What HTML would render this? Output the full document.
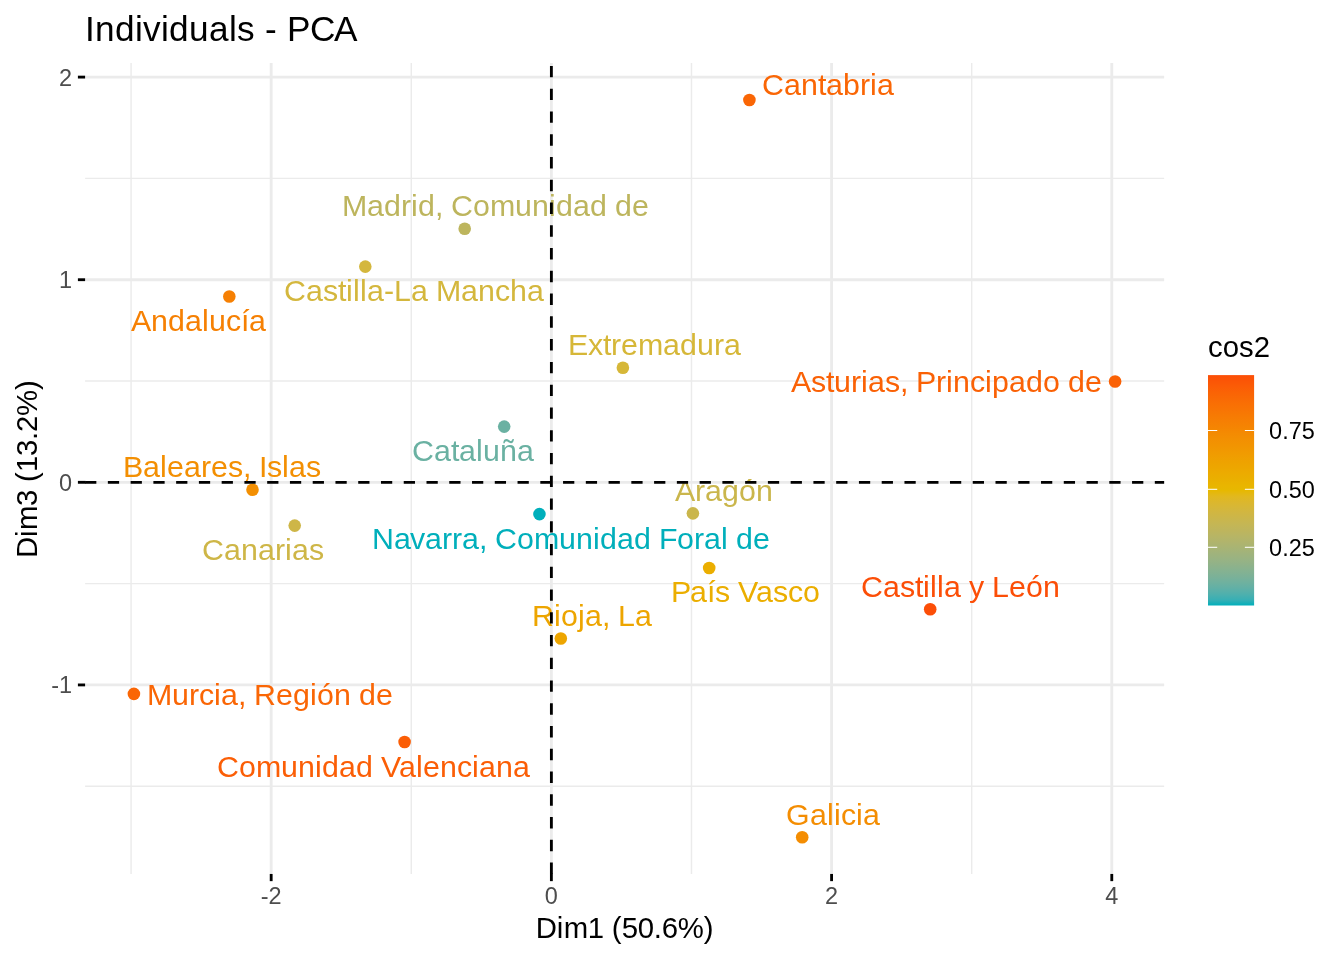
<!DOCTYPE html>
<html lang="es">
<head>
<meta charset="utf-8">
<title>Individuals - PCA</title>
<style>
html,body{margin:0;padding:0;background:#fff;}
body{width:1344px;height:960px;overflow:hidden;}
svg{display:block;}
text{font-family:"Liberation Sans",sans-serif;}
.lab{font-size:30.35px;}
.ax{font-size:23.47px;fill:#4D4D4D;}
.ttl{font-size:29.33px;fill:#000;}
.lg{font-size:23.47px;fill:#000;}
</style>
</head>
<body>
<svg width="1344" height="960" viewBox="0 0 1344 960">
<rect width="1344" height="960" fill="#fff"/>
<defs><linearGradient id="cb" x1="0" y1="1" x2="0" y2="0"><stop offset="0.0000" stop-color="#00AFBB"/><stop offset="0.0250" stop-color="#38AFB4"/><stop offset="0.0500" stop-color="#4FB0AD"/><stop offset="0.0750" stop-color="#61B0A6"/><stop offset="0.1000" stop-color="#6FB19F"/><stop offset="0.1250" stop-color="#7BB198"/><stop offset="0.1500" stop-color="#85B291"/><stop offset="0.1750" stop-color="#8FB28A"/><stop offset="0.2000" stop-color="#98B383"/><stop offset="0.2250" stop-color="#A0B37C"/><stop offset="0.2500" stop-color="#A8B474"/><stop offset="0.2750" stop-color="#B0B46D"/><stop offset="0.3000" stop-color="#B7B565"/><stop offset="0.3250" stop-color="#BEB55D"/><stop offset="0.3500" stop-color="#C4B655"/><stop offset="0.3750" stop-color="#CAB64C"/><stop offset="0.4000" stop-color="#D0B643"/><stop offset="0.4250" stop-color="#D6B738"/><stop offset="0.4500" stop-color="#DCB72C"/><stop offset="0.4750" stop-color="#E2B81D"/><stop offset="0.5000" stop-color="#E7B800"/><stop offset="0.5250" stop-color="#E9B400"/><stop offset="0.5500" stop-color="#EAAF00"/><stop offset="0.5750" stop-color="#ECAB00"/><stop offset="0.6000" stop-color="#EDA600"/><stop offset="0.6250" stop-color="#EEA200"/><stop offset="0.6500" stop-color="#F09D01"/><stop offset="0.6750" stop-color="#F19801"/><stop offset="0.7000" stop-color="#F29301"/><stop offset="0.7250" stop-color="#F38F02"/><stop offset="0.7500" stop-color="#F48A02"/><stop offset="0.7750" stop-color="#F58402"/><stop offset="0.8000" stop-color="#F67F03"/><stop offset="0.8250" stop-color="#F77A03"/><stop offset="0.8500" stop-color="#F87404"/><stop offset="0.8750" stop-color="#F96F04"/><stop offset="0.9000" stop-color="#F96905"/><stop offset="0.9250" stop-color="#FA6305"/><stop offset="0.9500" stop-color="#FB5C06"/><stop offset="0.9750" stop-color="#FB5506"/><stop offset="1.0000" stop-color="#FC4E07"/></linearGradient></defs>
<g stroke="#EBEBEB" fill="none" stroke-width="1.423">
<line x1="85.10" x2="1164.15" y1="178.40" y2="178.40"/><line x1="85.10" x2="1164.15" y1="381.01" y2="381.01"/><line x1="85.10" x2="1164.15" y1="583.62" y2="583.62"/><line x1="85.10" x2="1164.15" y1="786.24" y2="786.24"/><line x1="131.08" x2="131.08" y1="63.10" y2="873.95"/><line x1="411.28" x2="411.28" y1="63.10" y2="873.95"/><line x1="691.48" x2="691.48" y1="63.10" y2="873.95"/><line x1="971.68" x2="971.68" y1="63.10" y2="873.95"/>
</g>
<g stroke="#EBEBEB" fill="none" stroke-width="2.845">
<line x1="85.10" x2="1164.15" y1="77.10" y2="77.10"/><line x1="85.10" x2="1164.15" y1="279.71" y2="279.71"/><line x1="85.10" x2="1164.15" y1="482.32" y2="482.32"/><line x1="85.10" x2="1164.15" y1="684.93" y2="684.93"/><line x1="271.18" x2="271.18" y1="63.10" y2="873.95"/><line x1="551.38" x2="551.38" y1="63.10" y2="873.95"/><line x1="831.58" x2="831.58" y1="63.10" y2="873.95"/><line x1="1111.78" x2="1111.78" y1="63.10" y2="873.95"/>
</g>
<g>
<circle cx="749.40" cy="100.00" r="6.30" fill="#FA6605"/><circle cx="464.70" cy="228.80" r="6.30" fill="#BDB55D"/><circle cx="365.30" cy="266.60" r="6.30" fill="#D4B73D"/><circle cx="229.30" cy="296.50" r="6.30" fill="#F68003"/><circle cx="622.90" cy="367.70" r="6.30" fill="#D6B738"/><circle cx="1115.10" cy="381.50" r="6.30" fill="#FA6105"/><circle cx="504.20" cy="426.60" r="6.30" fill="#6AB1A2"/><circle cx="252.50" cy="489.80" r="6.30" fill="#F38F02"/><circle cx="294.70" cy="525.60" r="6.30" fill="#CEB647"/><circle cx="539.45" cy="514.10" r="6.30" fill="#00AFBB"/><circle cx="692.90" cy="513.35" r="6.30" fill="#CAB64C"/><circle cx="709.20" cy="568.00" r="6.30" fill="#EBAE00"/><circle cx="930.20" cy="609.30" r="6.30" fill="#FC4E07"/><circle cx="560.80" cy="638.50" r="6.30" fill="#EDA500"/><circle cx="133.90" cy="693.90" r="6.30" fill="#FA6605"/><circle cx="404.60" cy="742.00" r="6.30" fill="#FB5E06"/><circle cx="802.20" cy="837.20" r="6.30" fill="#F48D02"/>
</g>
<g class="lab">
<text x="762.00 784.00 801.00 818.00 826.00 843.00 860.00 870.00 877.00" y="95.00" fill="#FA6605">Cantabria</text>
<text x="342.00 367.00 384.00 401.00 411.00 418.00 435.00 443.00 451.00 473.00 490.00 515.00 532.00 549.00 556.00 573.00 590.00 607.00 615.00 632.00" y="216.00" fill="#BDB55D">Madrid, Comunidad de</text>
<text x="284.00 306.00 323.00 338.00 346.00 353.00 360.00 367.00 384.00 394.00 411.00 428.00 436.00 461.00 478.00 495.00 510.00 527.00" y="300.70" fill="#D4B73D">Castilla-La Mancha</text>
<text x="131.00 151.00 168.00 185.00 202.00 209.00 226.00 241.00 249.00" y="331.00" fill="#F68003">Andalucía</text>
<text x="568.00 588.00 603.00 611.00 621.00 638.00 663.00 680.00 697.00 714.00 724.00" y="355.00" fill="#D6B738">Extremadura</text>
<text x="791.00 811.00 826.00 834.00 851.00 861.00 868.00 885.00 900.00 908.00 916.00 936.00 946.00 953.00 970.00 985.00 992.00 1009.00 1026.00 1043.00 1060.00 1068.00 1085.00" y="392.20" fill="#FA6105">Asturias, Principado de</text>
<text x="412.00 434.00 451.00 459.00 476.00 483.00 500.00 517.00" y="461.00" fill="#6AB1A2">Cataluña</text>
<text x="123.00 143.00 160.00 167.00 184.00 201.00 211.00 228.00 243.00 251.00 259.00 267.00 282.00 289.00 306.00" y="477.00" fill="#F38F02">Baleares, Islas</text>
<text x="202.00 224.00 241.00 258.00 275.00 285.00 292.00 309.00" y="560.20" fill="#CEB647">Canarias</text>
<text x="372.00 394.00 410.00 425.00 442.00 452.00 462.00 479.00 487.00 495.00 517.00 534.00 559.00 576.00 593.00 600.00 617.00 634.00 651.00 659.00 677.00 694.00 704.00 721.00 728.00 736.00 753.00" y="548.50" fill="#00AFBB">Navarra, Comunidad Foral de</text>
<text x="675.00 695.00 705.00 722.00 739.00 756.00" y="500.80" fill="#CAB64C">Aragón</text>
<text x="671.00 690.00 707.00 715.00 730.00 738.00 756.00 773.00 788.00 803.00" y="602.20" fill="#EBAE00">País Vasco</text>
<text x="861.00 883.00 900.00 915.00 923.00 930.00 937.00 944.00 961.00 969.00 984.00 992.00 1009.00 1026.00 1043.00" y="597.00" fill="#FC4E07">Castilla y León</text>
<text x="532.00 554.00 561.00 578.00 585.00 602.00 610.00 618.00 635.00" y="626.00" fill="#EDA500">Rioja, La</text>
<text x="147.00 172.00 189.00 199.00 214.00 221.00 238.00 246.00 254.00 276.00 293.00 310.00 317.00 334.00 351.00 359.00 376.00" y="704.80" fill="#FA6605">Murcia, Región de</text>
<text x="217.00 239.00 256.00 281.00 298.00 315.00 322.00 339.00 356.00 373.00 381.00 399.00 416.00 423.00 440.00 457.00 472.00 479.00 496.00 513.00" y="776.80" fill="#FB5E06">Comunidad Valenciana</text>
<text x="786.00 810.00 827.00 834.00 841.00 856.00 863.00" y="824.70" fill="#F48D02">Galicia</text>
</g>
<g stroke="#000" fill="none" stroke-width="2.845">
<line x1="85.10" x2="1164.15" y1="482.32" y2="482.32" stroke-dasharray="11.250 11.510"/><line x1="551.38" x2="551.38" y1="873.95" y2="63.10" stroke-dasharray="11.350 11.410"/>
</g>
<g stroke="#000" fill="none" stroke-width="2.845">
<line x1="77.90" x2="85.10" y1="77.10" y2="77.10"/><line x1="77.90" x2="85.10" y1="279.71" y2="279.71"/><line x1="77.90" x2="85.60" y1="482.32" y2="482.32"/><line x1="77.90" x2="85.10" y1="684.93" y2="684.93"/><line x1="271.18" x2="271.18" y1="873.95" y2="881.15"/><line x1="551.38" x2="551.38" y1="873.45" y2="881.15"/><line x1="831.58" x2="831.58" y1="873.95" y2="881.15"/><line x1="1111.78" x2="1111.78" y1="873.95" y2="881.15"/>
</g>
<g class="ax">
<text x="72.00" y="86.30" text-anchor="end">2</text><text x="72.00" y="288.10" text-anchor="end">1</text><text x="72.00" y="490.70" text-anchor="end">0</text><text x="72.00" y="693.30" text-anchor="end">-1</text><text x="271.18" y="903.60" text-anchor="middle">-2</text><text x="551.38" y="903.60" text-anchor="middle">0</text><text x="831.58" y="903.60" text-anchor="middle">2</text><text x="1111.78" y="903.60" text-anchor="middle">4</text>
</g>
<text x="85.05 95.05 115.05 135.05 143.05 161.05 169.05 189.05 209.05 229.05 237.05 255.05 265.05 277.05 287.05 310.05 334.05" y="41.00" font-size="35.2" fill="#000">Individuals - PCA</text>
<text class="ttl" x="535.82 556.82 563.82 587.82 603.82 611.82 621.82 637.82 653.82 661.82 677.82 703.82" y="937.60">Dim1 (50.6%)</text>
<text class="ttl" transform="translate(36.60,468.80) rotate(-90)" x="-89.18 -68.18 -61.18 -37.18 -21.18 -13.18 -3.18 12.82 28.82 36.82 52.82 78.82" y="0">Dim3 (13.2%)</text>
<text class="ttl" x="1208.00" y="357.20">cos2</text>
<rect x="1208.00" y="375.10" width="46.10" height="230.40" fill="url(#cb)"/>
<g stroke="#fff" stroke-width="1.05" fill="none">
<line x1="1208.00" x2="1217.22" y1="430.50" y2="430.50"/><line x1="1244.88" x2="1254.10" y1="430.50" y2="430.50"/><line x1="1208.00" x2="1217.22" y1="489.30" y2="489.30"/><line x1="1244.88" x2="1254.10" y1="489.30" y2="489.30"/><line x1="1208.00" x2="1217.22" y1="547.30" y2="547.30"/><line x1="1244.88" x2="1254.10" y1="547.30" y2="547.30"/>
</g>
<g class="lg">
<text x="1269.10" y="438.90">0.75</text><text x="1269.10" y="498.30">0.50</text><text x="1269.10" y="555.70">0.25</text>
</g>
</svg>
</body>
</html>
